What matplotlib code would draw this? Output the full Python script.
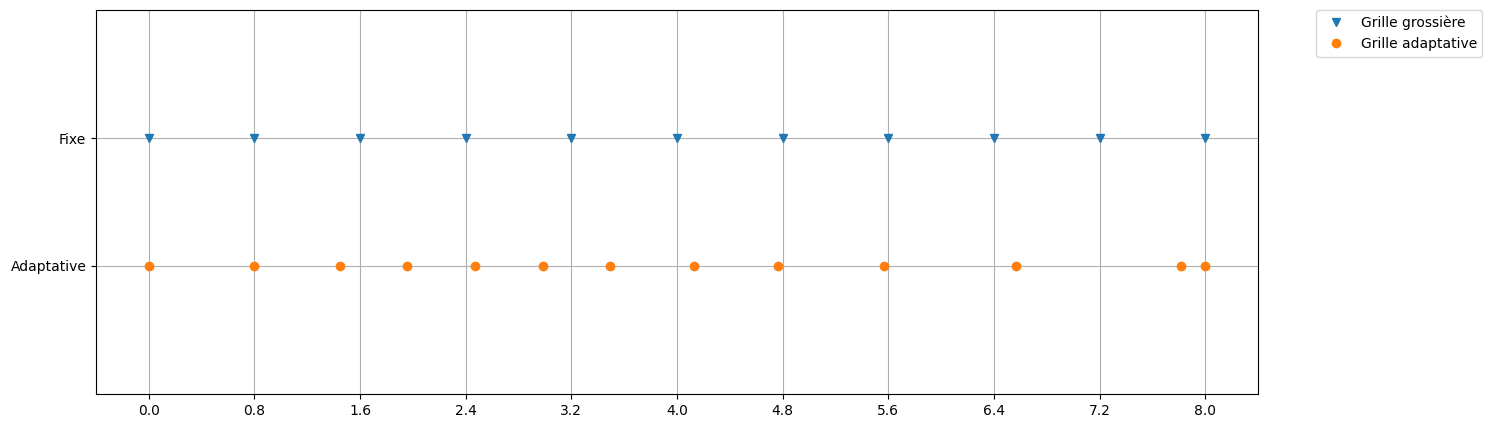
import matplotlib
matplotlib.use("Agg")
import matplotlib.pyplot as plt
import numpy as np

# grille fixe (grossiere) et grille adaptative
x_fixe = [0.0, 0.8, 1.6, 2.4, 3.2, 4.0, 4.8, 5.6, 6.4, 7.2, 8.0]
x_adapt = [0.0, 0.80, 1.446, 1.953, 2.467, 2.982, 3.489, 4.132, 4.768, 5.570, 6.569, 7.818, 8.0]
y_labels = ["Adaptative", "Fixe"]
x_ticks = [0.0, 0.8, 1.6, 2.4, 3.2, 4.0, 4.8, 5.6, 6.4, 7.2, 8.0]

fig, ax = plt.subplots(figsize=(14.92, 4.28), dpi=100)
fig.subplots_adjust(left=96/1492, right=1258/1492, top=1-10/428, bottom=1-394/428)

ax.plot(x_fixe, np.ones(len(x_fixe)), "v", label="Grille grossière")
ax.plot(x_adapt, np.zeros(len(x_adapt)), "o", label="Grille adaptative")

ax.set_yticks([0, 1])
ax.set_yticklabels(y_labels)
ax.set_ylim(-1, 2)
ax.set_xticks(x_ticks)
ax.set_xticklabels(["{:.1f}".format(t) for t in x_ticks])
ax.grid(True)
ax.legend(bbox_to_anchor=(1.05, 1), loc="upper left", borderaxespad=0.)

plt.savefig("out.png")
